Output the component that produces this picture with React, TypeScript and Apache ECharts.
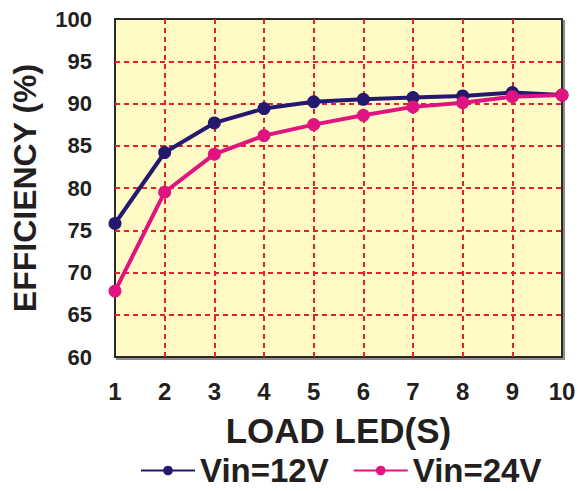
import React, { useEffect, useRef } from "react";
import * as echarts from "echarts";

const loads = [1, 2, 3, 4, 5, 6, 7, 8, 9, 10];
const vin12 = [75.8, 84.2, 87.7, 89.4, 90.2, 90.5, 90.7, 90.9, 91.3, 91.0];
const vin24 = [67.8, 79.5, 84.0, 86.2, 87.5, 88.6, 89.6, 90.1, 90.8, 91.0];
const seriesNames = ["Vin=12V", "Vin=24V"];
const xTitle = "LOAD LED(S)";
const yTitle = "EFFICIENCY (%)";

const FONT = "'Liberation Sans', Arial, sans-serif";
const BLUE = "#25186f";
const PINK = "#e01480";

export default function App() {
  const ref = useRef<HTMLDivElement>(null);
  useEffect(() => {
    if (!ref.current) return;
    const chart = echarts.init(ref.current, null, { renderer: "svg" });
    const mk = (vals: number[]) => loads.map((x, i) => [x, vals[i]]);
    chart.setOption({
      animation: false,
      backgroundColor: "#ffffff",
      grid: {
        left: 115,
        right: 18,
        top: 19,
        bottom: 134,
        show: true,
        backgroundColor: "#fffac6",
        borderColor: "#2a2a2a",
        borderWidth: 2,
        shadowColor: "rgba(0,0,0,0.45)",
        shadowOffsetX: 2,
        shadowOffsetY: 2,
        shadowBlur: 1,
      },
      legend: {
        top: 454,
        left: 140,
        padding: 0,
        itemWidth: 54,
        itemHeight: 12,
        itemGap: 24,
        textStyle: {
          fontFamily: FONT,
          fontWeight: "bold",
          fontSize: 33,
          lineHeight: 33,
          color: "#231f20",
        },
        data: seriesNames,
      },
      xAxis: {
        type: "value",
        min: 1,
        max: 10,
        interval: 1,
        name: xTitle,
        nameLocation: "middle",
        nameGap: 56,
        nameTextStyle: { fontFamily: FONT, fontWeight: "bold", fontSize: 35, color: "#231f20" },
        axisLine: { show: false },
        axisTick: { show: false },
        axisLabel: { margin: 22, fontFamily: FONT, fontWeight: "bold", fontSize: 24, color: "#231f20" },
        splitLine: {
          show: true,
          showMinLine: false,
          showMaxLine: false,
          lineStyle: { color: "#e3222a", width: 2, type: [5, 4] },
        },
      },
      yAxis: {
        type: "value",
        min: 60,
        max: 100,
        interval: 5,
        name: yTitle,
        nameLocation: "middle",
        nameGap: 74,
        nameTextStyle: { fontFamily: FONT, fontWeight: "bold", fontSize: 32, color: "#231f20" },
        axisLine: { show: false },
        axisTick: { show: false },
        axisLabel: { margin: 23, fontFamily: FONT, fontWeight: "bold", fontSize: 22, color: "#231f20" },
        splitLine: {
          show: true,
          showMinLine: false,
          showMaxLine: false,
          lineStyle: { color: "#e3222a", width: 2, type: [5, 4] },
        },
      },
      series: [
        {
          name: seriesNames[0],
          type: "line",
          data: mk(vin12),
          symbol: "circle",
          symbolSize: 13,
          lineStyle: { color: BLUE, width: 4 },
          itemStyle: { color: BLUE },
          clip: false,
        },
        {
          name: seriesNames[1],
          type: "line",
          data: mk(vin24),
          symbol: "circle",
          symbolSize: 13,
          lineStyle: { color: PINK, width: 4 },
          itemStyle: { color: PINK },
          clip: false,
        },
      ],
    });
    return () => chart.dispose();
  }, []);
  return <div ref={ref} style={{ width: 580, height: 491, position: "absolute", left: 0, top: 0 }} />;
}
